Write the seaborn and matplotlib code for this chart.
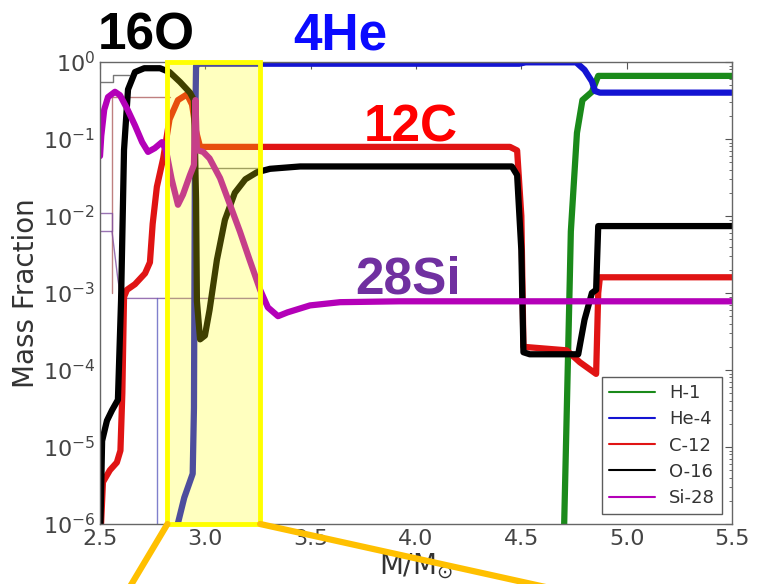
import pandas as pd
import numpy as np
import matplotlib
matplotlib.use("Agg")
import matplotlib.pyplot as plt
from matplotlib.lines import Line2D
from matplotlib.patches import ConnectionPatch
import seaborn as sns

# mass coordinate (M/Msun) and mass fraction
x_h1 = [4.695, 4.73, 4.735, 4.764, 4.79, 4.835, 4.865, 5.50]
h1 = [1e-7, 1.5e-3, 6.3e-3, 0.12, 0.32, 0.41, 0.66, 0.66]

x_he4 = [2.855, 2.90, 2.94, 2.946, 2.951, 2.956, 2.97, 4.49, 4.52, 4.76, 4.80, 4.835, 4.85, 4.873, 5.50]
he4 = [7e-7, 2.2e-6, 4.5e-6, 3.2e-5, 0.1, 0.89, 0.95, 0.95, 0.99, 0.99, 0.79, 0.56, 0.42, 0.40, 0.40]

x_c12 = [2.50, 2.514, 2.547, 2.58, 2.597, 2.606, 2.614, 2.628, 2.666, 2.714, 2.737, 2.75, 2.77, 2.80,
         2.83, 2.87, 2.913, 2.937, 2.956, 2.975, 3.02, 4.446, 4.48, 4.50, 4.51, 4.715, 4.778, 4.855,
         4.865, 4.873, 5.50]
c12 = [5e-7, 3.5e-6, 5.0e-6, 6.3e-6, 9e-6, 5.0e-5, 8.9e-4, 1.1e-3, 1.3e-3, 1.8e-3, 2.5e-3, 7.9e-3,
       0.024, 0.056, 0.18, 0.32, 0.38, 0.28, 0.126, 0.079, 0.079, 0.079, 0.071, 0.01, 2.0e-4, 1.8e-4,
       1.26e-4, 8.9e-5, 1e-3, 1.6e-3, 1.6e-3]

x_o16 = [2.50, 2.51, 2.533, 2.557, 2.585, 2.60, 2.614, 2.633, 2.666, 2.71, 2.785, 2.83, 2.88, 2.927,
         2.946, 2.956, 2.96, 2.975, 2.998, 3.02, 3.055, 3.093, 3.14, 3.19, 3.245, 3.307, 3.45, 4.455,
         4.48, 4.50, 4.51, 4.54, 4.77, 4.80, 4.835, 4.855, 4.865, 4.90, 5.50]
o16 = [5e-7, 1.2e-5, 2.2e-5, 3.0e-5, 4.1e-5, 8.1e-4, 0.072, 0.44, 0.74, 0.83, 0.83, 0.74, 0.55, 0.40,
       0.32, 0.016, 7.9e-4, 2.5e-4, 2.8e-4, 6.0e-4, 2.7e-3, 8.9e-3, 0.020, 0.030, 0.037, 0.041, 0.044,
       0.044, 0.034, 3.6e-3, 1.7e-4, 1.6e-4, 1.6e-4, 4.5e-4, 1.0e-3, 1.1e-3, 7.4e-3, 7.4e-3, 7.4e-3]

x_si28 = [2.50, 2.506, 2.52, 2.538, 2.571, 2.595, 2.628, 2.666, 2.70, 2.728, 2.76, 2.794, 2.813, 2.84,
          2.87, 2.894, 2.927, 2.946, 2.953, 2.96, 2.99, 3.02, 3.07, 3.117, 3.164, 3.21, 3.26, 3.297,
          3.345, 3.39, 3.497, 3.64, 3.92, 5.50]
si28 = [0.06, 0.11, 0.24, 0.35, 0.41, 0.37, 0.25, 0.15, 0.091, 0.068, 0.076, 0.091, 0.072, 0.030, 0.014,
        0.019, 0.034, 0.046, 0.32, 0.072, 0.068, 0.056, 0.031, 0.014, 6.3e-3, 2.7e-3, 1.1e-3, 6.5e-4,
        5.0e-4, 5.6e-4, 6.9e-4, 7.6e-4, 7.8e-4, 7.8e-4]

# faint lines of an earlier profile
thin_k_x, thin_k_y = [2.50, 2.56, 2.56, 2.64], [0.55, 0.55, 0.68, 0.68]
thin_r_x, thin_r_y = [2.557, 2.557, 2.83], [1e-3, 0.35, 0.35]
thin_m_x, thin_m_y = [2.50, 2.557, 2.557, 2.50], [0.011, 0.011, 0.0063, 0.0063]
thin_m2_x, thin_m2_y = [2.557, 2.585, 2.60, 3.26], [0.0063, 1.5e-3, 8.5e-4, 8.5e-4]
thin_b_x, thin_b_y = [2.77, 2.77], [5e-7, 8.5e-4]
thin_o_x, thin_o_y = [2.95, 3.26], [0.042, 0.042]

species = ["H-1", "He-4", "C-12", "O-16", "Si-28"]
colors = ["#1a8a1a", "#1414d2", "#e01414", "#000000", "#b400b8"]

frames = []
for name, xs, ys in zip(species, [x_h1, x_he4, x_c12, x_o16, x_si28], [h1, he4, c12, o16, si28]):
    frames.append(pd.DataFrame({"mass": xs, "frac": ys, "species": name}))
df = pd.concat(frames, ignore_index=True)

sns.set_style("white")
plt.rcParams["font.family"] = ["DejaVu Sans"]

fig = plt.figure(figsize=(7.59, 5.84), dpi=100)
ax = fig.add_axes([100 / 759, 1 - 524 / 584, 632 / 759, 462 / 584])
ax.set_yscale("log")

thin = [(thin_k_x, thin_k_y, "#555555"), (thin_r_x, thin_r_y, "#b06060"),
        (thin_m_x, thin_m_y, "#8050a0"), (thin_m2_x, thin_m2_y, "#8050a0"),
        (thin_b_x, thin_b_y, "#6060c0"), (thin_o_x, thin_o_y, "#606060")]
for tx, ty, tc in thin:
    ax.plot(tx, ty, color=tc, lw=1.0, alpha=0.8, zorder=1)

sns.lineplot(data=df, x="mass", y="frac", hue="species", hue_order=species,
             palette=dict(zip(species, colors)), sort=False, estimator=None,
             linewidth=4.5, legend=False, ax=ax, zorder=2)

ax.set_xlim(2.5, 5.5)
ax.set_ylim(1e-6, 1)
ax.set_xticks([2.5, 3.0, 3.5, 4.0, 4.5, 5.0, 5.5])
ax.set_xlabel(r"M/M$_{\odot}$", fontsize=20, color="#333333", labelpad=2)
ax.set_ylabel("Mass Fraction", fontsize=20, color="#333333", labelpad=2)
ax.tick_params(which="both", direction="in", top=True, right=True, color="#555555")
ax.tick_params(which="major", length=5, labelsize=16, labelcolor="#444444")
ax.tick_params(which="minor", length=2.5)
ax.minorticks_on()
ax.xaxis.set_minor_locator(matplotlib.ticker.NullLocator())
for sp in ax.spines.values():
    sp.set_color("#666666")
    sp.set_linewidth(1.0)

# highlighted region
ax.axvspan(2.82, 3.26, facecolor=(1, 1, 0, 0.25), edgecolor="#ffff00", lw=3.5, zorder=4, clip_on=False)
for xa, xb in [(2.82, 128 / 759), (3.26, 559 / 759)]:
    con = ConnectionPatch(xyA=(xa, 1e-6), coordsA="data", axesA=ax,
                          xyB=(xb, -6 / 584), coordsB="figure fraction",
                          color="#ffc000", lw=4.5, zorder=6, clip_on=False)
    fig.add_artist(con)

handles = [Line2D([0], [0], color=c, lw=1.5) for c in colors]
leg = ax.legend(handles, species, loc="lower right", fontsize=13, frameon=True, fancybox=False,
                edgecolor="#333333", handlelength=2.5, borderaxespad=0.55, labelspacing=0.45)
leg.get_frame().set_linewidth(1.0)
for t in leg.get_texts():
    t.set_color("#333333")

lab = dict(fontsize=37, fontweight="bold", family=["Liberation Sans", "DejaVu Sans"], ha="center", va="baseline")
fig.text(146 / 759, 1 - 49 / 584, "16O", color="black", **lab)
fig.text(340 / 759, 1 - 49 / 584, "4He", color="#0a0aff", **lab)
fig.text(411 / 759, 1 - 141 / 584, "12C", color="#ff0000", **lab)
fig.text(408 / 759, 1 - 293 / 584, "28Si", color="#7030a0", **lab)

fig.savefig("out.png", dpi=100)
